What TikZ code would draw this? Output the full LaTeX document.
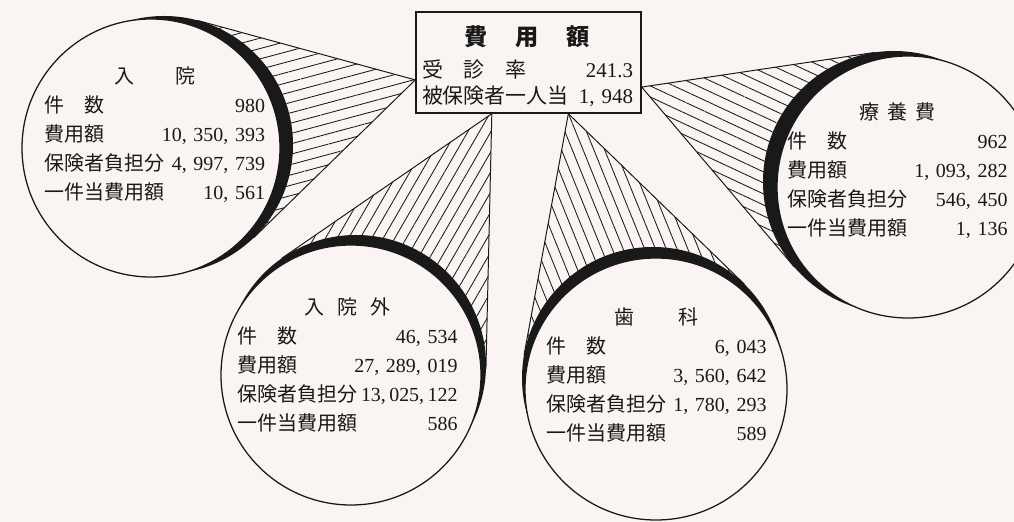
\documentclass[tikz,border=0pt]{standalone}
\usepackage{fontspec}
\setmainfont{Liberation Serif}
\newfontfamily\jp{Noto Sans CJK JP}
\usetikzlibrary{calc,patterns.meta}
\pgfdeclarelayer{bg}
\pgfsetlayers{bg,main}
\definecolor{paper}{RGB}{250,245,242}
\definecolor{ink}{RGB}{25,25,25}
\newcommand\datarow[2]{\makebox[\linewidth]{#1\hfill{\rmfamily #2}}}

\begin{document}
\begin{tikzpicture}[x=0.25mm,y=-0.25mm,
    face/.style={circle,inner sep=0pt,fill=paper,draw=ink,line width=0.9pt,minimum size=#1},
    rim/.style={circle,inner sep=0pt,outer sep=0pt,fill=ink,minimum size=#1},
    info/.style={font=\jp\fontsize{14.2}{20.6}\selectfont,text=ink,text width=55mm,align=center,inner sep=0pt},
    beam/.style={draw=ink,line width=0.7pt,pattern={Lines[angle=#1,distance=2.5mm,line width=0.6pt]},pattern color=ink}]
    \useasboundingbox (0,0) rectangle (1014,522);
    \clip (0,0) rectangle (1014,522);

    % central box
    \node[draw=ink,fill=paper,line width=1pt,minimum width=56.25mm,minimum height=25.25mm,inner sep=0pt] (hiyou) at (528.5,62.5) {};
    \node[font=\jp\fontsize{14.9}{18.4}\selectfont,text=ink,text width=52.75mm,align=center,inner sep=0pt] (hiyou-t) at (527.5,66)
      {{\bfseries\fontsize{16.5}{18.4}\selectfont 費\hspace{1.2em}用\hspace{1.2em}額}\\[4.3pt]
       \datarow{受\hspace{1em}診\hspace{1em}率}{241.3}\\
       \datarow{被保険者一人当}{1, 948}};
    \coordinate (nyuin-a) at ($(hiyou.north west)!0.67!(hiyou.south west)$);
    \coordinate (gairai-a) at ($(hiyou.south west)!0.338!(hiyou.south east)$);
    \coordinate (shika-a) at ($(hiyou.south west)!0.676!(hiyou.south east)$);
    \coordinate (ryoyo-a) at ($(hiyou.north east)!0.74!(hiyou.south east)$);

    % shadow rims
    \node[rim=64.5mm] (nyuin-s) at (164,145) {};
    \node[rim=65mm] (gairai-s) at (356,365) {};
    \node[rim=65.5mm] (shika-s) at (653,378) {};
    \node[rim=65.5mm] (ryoyo-s) at (894,182) {};

    % hatched beams
    \begin{pgfonlayer}{bg}
      \fill[paper] (0,0) rectangle (1014,522);
      \draw[beam=15] (nyuin-a) -- (tangent cs:node=nyuin-s,point={(nyuin-a)},solution=1)
        -- (tangent cs:node=nyuin-s,point={(nyuin-a)},solution=2) -- cycle;
      \draw[beam=60] (gairai-a) -- (tangent cs:node=gairai-s,point={(gairai-a)},solution=1)
        -- (tangent cs:node=gairai-s,point={(gairai-a)},solution=2) -- cycle;
      \draw[beam=-68] (shika-a) -- (tangent cs:node=shika-s,point={(shika-a)},solution=1)
        -- (tangent cs:node=shika-s,point={(shika-a)},solution=2) -- cycle;
      \draw[beam=-25] (ryoyo-a) -- (tangent cs:node=ryoyo-s,point={(ryoyo-a)},solution=1)
        -- (tangent cs:node=ryoyo-s,point={(ryoyo-a)},solution=2) -- cycle;
    \end{pgfonlayer}

    % faces
    \node[face=64.5mm] (nyuin) at (151,148) {};
    \node[face=65mm] (gairai) at (351,375) {};
    \node[face=65.5mm] (shika) at (656,389) {};
    \node[face=65.5mm] (ryoyo) at (908,187) {};

    \node[info] (nyuin-t) at (155,135)
      {入\hspace{2.1em}院\\
       \datarow{件　数}{980}\\
       \datarow{費用額}{10, 350, 393}\\
       \datarow{保険者負担分}{4, 997, 739}\\
       \datarow{一件当費用額}{10, 561}};
    \node[info] (gairai-t) at (347.5,365)
      {入\hspace{0.65em}院\hspace{0.65em}外\\
       \datarow{件　数}{46, 534}\\
       \datarow{費用額}{27, 289, 019}\\
       \datarow{保険者負担分}{13,\,025,\,122}\\
       \datarow{一件当費用額}{586}};
    \node[info] (shika-t) at (656.5,375)
      {歯\hspace{2.2em}科\\
       \datarow{件　数}{6, 043}\\
       \datarow{費用額}{3, 560, 642}\\
       \datarow{保険者負担分}{1, 780, 293}\\
       \datarow{一件当費用額}{589}};
    \node[info] (ryoyo-t) at (897.5,171)
      {療\hspace{0.4em}養\hspace{0.4em}費\\
       \datarow{件　数}{962}\\
       \datarow{費用額}{1, 093, 282}\\
       \datarow{保険者負担分}{546, 450}\\
       \datarow{一件当費用額}{1, 136}};
\end{tikzpicture}
\end{document}
